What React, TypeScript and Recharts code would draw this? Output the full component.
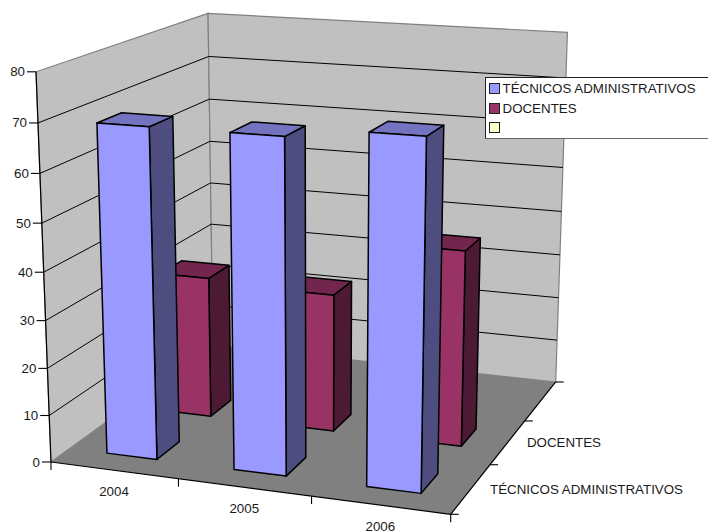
import React from "react";
import { BarChart, Bar, XAxis, YAxis, Legend, Customized } from "recharts";

const categories = ["2004", "2005", "2006"];
const tecnicos = [69, 69, 71];
const docentes = [31, 30, 42];
const terceira: (number | null)[] = [null, null, null];
const yTicks = [0, 10, 20, 30, 40, 50, 60, 70, 80];
const depthLabels = ["TÉCNICOS ADMINISTRATIVOS", "DOCENTES"];
const depthSlots = 3;
const Y_MAX = 80;

const W = 708;
const H = 532;
const FONT = "'Liberation Sans', Arial, sans-serif";
const FS = 13.33;
const TEXT = "#1a1a1a";

const data = categories.map((c, i) => ({
  cat: c,
  tec: tecnicos[i],
  doc: docentes[i],
  ter: terceira[i],
}));

// Perspective camera: (u along categories, w into depth, h up), each 0..1
function P(u: number, w: number, h: number): [number, number] {
  const d = 1 - 0.06367 * u + 0.18584 * w - 0.053 * h;
  return [
    (51 + 371 * u + 201.58 * w - 16.9 * h) / d,
    (462 + 19.55 * u - 52.89 * w - 394 * h) / d,
  ];
}
const pts = (list: [number, number][]) => list.map((p) => p.join(",")).join(" ");

function Line3({ a, b, stroke = "#000", sw = 1 }: { a: [number, number]; b: [number, number]; stroke?: string; sw?: number }) {
  return <line x1={a[0]} y1={a[1]} x2={b[0]} y2={b[1]} stroke={stroke} strokeWidth={sw} />;
}

function Scene() {
  const wallProps = { fill: "#C0C0C0", stroke: "#808080", strokeWidth: 1.2 };
  const inner = yTicks.filter((t) => t > 0 && t < Y_MAX);
  return (
    <g>
      <polygon {...wallProps} points={pts([P(0, 0, 0), P(0, 1, 0), P(0, 1, 1), P(0, 0, 1)])} />
      <polygon {...wallProps} points={pts([P(0, 1, 0), P(1, 1, 0), P(1, 1, 1), P(0, 1, 1)])} />
      <polygon fill="#808080" points={pts([P(0, 0, 0), P(1, 0, 0), P(1, 1, 0), P(0, 1, 0)])} />
      {inner.map((t) => (
        <g key={t}>
          <Line3 a={P(0, 0, t / Y_MAX)} b={P(0, 1, t / Y_MAX)} />
          <Line3 a={P(0, 1, t / Y_MAX)} b={P(1, 1, t / Y_MAX)} />
        </g>
      ))}
      {/* axes */}
      <Line3 a={P(0, 0, 0)} b={P(0, 0, 1)} sw={1.2} />
      <Line3 a={P(0, 0, 0)} b={P(1, 0, 0)} sw={1.2} />
      <Line3 a={P(1, 0, 0)} b={P(1, 1, 0)} sw={1.2} />
      {[0, 1, 2, 3].map((i) => {
        const [x, y] = P(i / categories.length, 0, 0);
        return <Line3 key={i} a={[x, y]} b={[x, y + 8]} sw={1.1} />;
      })}
      {Array.from({ length: depthSlots + 1 }, (_, i) => {
        const [x, y] = P(1, i / depthSlots, 0);
        return <Line3 key={i} a={[x, y]} b={[x + 8, y]} sw={1.1} />;
      })}
      {depthLabels.map((l, i) => {
        const [x, y] = P(1, (i + 0.5) / depthSlots, 0);
        return (
          <text key={l} x={x + 19} y={y + 5} fontFamily={FONT} fontSize={FS} fill={TEXT}>
            {l}
          </text>
        );
      })}
    </g>
  );
}

function barShape(slot: number, front: string, side: string, top: string) {
  return (props: any) => {
    const { x, y, width, height } = props;
    if (height == null || !isFinite(height)) return <g />;
    const u0 = x / W;
    const u1 = (x + width) / W;
    const h = (H - y) / H;
    const w0 = (slot + 0.3) / depthSlots;
    const w1 = (slot + 0.7) / depthSlots;
    const common = { stroke: "#000", strokeWidth: 1.5, strokeLinejoin: "round" as const };
    return (
      <g>
        <polygon {...common} fill={side} points={pts([P(u1, w0, 0), P(u1, w1, 0), P(u1, w1, h), P(u1, w0, h)])} />
        <polygon {...common} fill={top} points={pts([P(u0, w0, h), P(u1, w0, h), P(u1, w1, h), P(u0, w1, h)])} />
        <polygon {...common} fill={front} points={pts([P(u0, w0, 0), P(u1, w0, 0), P(u1, w0, h), P(u0, w0, h)])} />
      </g>
    );
  };
}

function YTick(props: any) {
  const v = props.payload.value as number;
  const [x, y] = P(0, 0, v / Y_MAX);
  return (
    <g>
      <line x1={x - 9} y1={y} x2={x} y2={y} stroke="#000" strokeWidth={1.1} />
      <text x={x - 11} y={y + 4.5} textAnchor="end" fontFamily={FONT} fontSize={FS} fill={TEXT}>
        {v}
      </text>
    </g>
  );
}

function XTick(props: any) {
  const label = props.payload.value as string;
  const [x, y] = P((categories.indexOf(label) + 0.5) / categories.length, 0, 0);
  return (
    <text x={x} y={y + 26} textAnchor="middle" fontFamily={FONT} fontSize={FS} fill={TEXT}>
      {label}
    </text>
  );
}

function LegendBox(props: any) {
  const items = [...(props.payload || [])].reverse();
  return (
    <div
      style={{
        boxSizing: "border-box",
        width: 223,
        height: 62,
        background: "#fff",
        borderTop: "1.5px solid #222",
        borderLeft: "1.5px solid #222",
        borderBottom: "1.5px solid #666",
        paddingLeft: 3,
        paddingTop: 0.5,
        fontFamily: FONT,
        fontSize: FS,
        color: TEXT,
      }}
    >
      {items.map((it: any, i: number) => (
        <div key={i} style={{ height: 19.7, display: "flex", alignItems: "center", whiteSpace: "nowrap" }}>
          <span
            style={{
              display: "inline-block",
              boxSizing: "border-box",
              width: 11,
              height: 11,
              background: it.color,
              border: "1.5px solid #222",
              marginRight: 2.5,
            }}
          />
          <span>{it.value}</span>
        </div>
      ))}
    </div>
  );
}

export default function App() {
  return (
    <div style={{ position: "absolute", left: 0, top: 0, width: W, height: H, background: "#fff", overflow: "hidden" }}>
      <BarChart
        width={W}
        height={H}
        data={data}
        margin={{ top: 0, right: 0, bottom: -1, left: -1 }}
        barCategoryGap="30%"
      >
        <Customized component={Scene} />
        <XAxis
          xAxisId="front"
          dataKey="cat"
          height={1}
          axisLine={false}
          tickLine={false}
          interval={0}
          tick={XTick}
        />
        <XAxis xAxisId="mid" dataKey="cat" hide />
        <XAxis xAxisId="back" dataKey="cat" hide />
        <YAxis
          width={1}
          domain={[0, Y_MAX]}
          ticks={yTicks}
          interval={0}
          axisLine={false}
          tickLine={false}
          tick={YTick}
        />
        <Legend
          layout="vertical"
          align="center"
          verticalAlign="middle"
          itemSorter={null}
          content={LegendBox}
          wrapperStyle={{ position: "absolute", left: 485, top: 77, width: 223, height: 62, margin: 0 }}
        />
        <Bar xAxisId="back" dataKey="ter" name=" " fill="#FFFFCC" isAnimationActive={false} shape={barShape(2, "#FFFFCC", "#80805F", "#BFBF99")} />
        <Bar xAxisId="mid" dataKey="doc" name="DOCENTES" fill="#993366" isAnimationActive={false} shape={barShape(1, "#993366", "#4D1A33", "#73264D")} />
        <Bar xAxisId="front" dataKey="tec" name="TÉCNICOS ADMINISTRATIVOS" fill="#9999FF" isAnimationActive={false} shape={barShape(0, "#9999FF", "#4D4D80", "#7373BF")} />
      </BarChart>
    </div>
  );
}
